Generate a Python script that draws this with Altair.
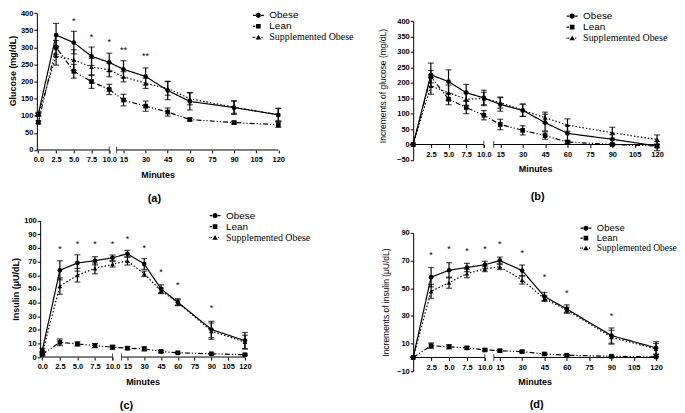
import altair as alt
import pandas as pd

minutes = [0, 2.5, 5, 7.5, 10, 15, 30, 45, 60, 90, 120]
groups = ["Obese", "Lean", "Supplemented Obese"]
x_ticks_full = [0, 2.5, 5, 7.5, 10, 15, 30, 45, 60, 75, 90, 105, 120]
x_ticks_nozero = [2.5, 5, 7.5, 10, 15, 30, 45, 60, 75, 90, 105, 120]

# (a) Glucose (mg/dL)
glu_obese = [105, 336, 314, 274, 256, 236, 215, 174, 142, 124, 103]
glu_obese_sem = [5, 34, 33, 27, 27, 25, 25, 27, 25, 20, 19]
glu_lean = [81, 300, 230, 200, 177, 146, 128, 111, 89, 80, 74]
glu_lean_sem = [4, 20, 20, 20, 15, 17, 15, 12, 4, 4, 8]
glu_supp = [103, 275, 263, 243, 234, 214, 195, 180, 150, 125, 103]
glu_supp_sem = [4, 27, 30, 25, 20, 15, 15, 20, 18, 18, 18]
glu_star_min = [5, 7.5, 10, 15, 30]
glu_star_y = [378, 331, 316, 292, 274]
glu_star_txt = ["*", "*", "*", "**", "**"]

# (b) Increments of glucose (mg/dL)
dglu_obese = [0, 226, 204, 168, 151, 130, 111, 71, 36, 17, -5]
dglu_obese_sem = [0, 38, 38, 27, 25, 22, 20, 27, 25, 15, 15]
dglu_lean = [0, 220, 147, 120, 95, 65, 46, 29, 8, 0, -5]
dglu_lean_sem = [0, 20, 18, 20, 15, 17, 15, 12, 5, 3, 5]
dglu_supp = [0, 190, 168, 147, 149, 136, 111, 87, 63, 38, 16]
dglu_supp_sem = [0, 27, 25, 20, 20, 18, 20, 18, 20, 18, 15]
dglu_star_min = []
dglu_star_y = []
dglu_star_txt = []

# (c) Insulin (uU/dL)
ins_obese = [5, 63.6, 69, 70.6, 72.8, 75.7, 68.2, 50, 40.2, 20.2, 12]
ins_obese_sem = [1.5, 7, 6, 3, 2, 2.5, 4, 3, 2.5, 6, 6]
ins_lean = [2, 10.8, 9.6, 8.4, 7.2, 6.5, 6, 4.1, 3.1, 2.4, 1.7]
ins_lean_sem = [1, 2.5, 1.5, 1.5, 1.5, 1, 1.5, 0.8, 0.5, 0.5, 0.5]
ins_supp = [3, 52, 60, 65, 68, 70.5, 61, 48.5, 40, 19, 11]
ins_supp_sem = [1, 6, 5, 4, 2, 3, 2, 2, 2, 6, 5]
ins_star_min = [2.5, 5, 7.5, 10, 15, 30, 45, 60, 90]
ins_star_y = [79, 83, 83, 83, 86.5, 80, 62.6, 52.5, 35.7]
ins_star_txt = ["*"] * 9

# (d) Increments of insulin (uU/dL)
dins_obese = [0, 58, 63, 65, 67, 70, 62.8, 44, 35, 15.8, 6.9]
dins_obese_sem = [0, 7, 5.5, 3, 2.5, 2.5, 4, 3, 3, 5.5, 4.5]
dins_lean = [0, 8.5, 7.7, 6.9, 5.4, 4.9, 4.2, 2.5, 1.6, 0.8, 0.4]
dins_lean_sem = [0, 2, 1.5, 1, 0.8, 0.8, 0.8, 0.6, 0.5, 0.3, 0.3]
dins_supp = [0, 47.8, 54, 60.6, 64, 65.5, 56, 42.5, 34.3, 14.6, 6.1]
dins_supp_sem = [0, 5, 4, 3, 2, 2, 3, 2, 2, 5, 4]
dins_star_min = [2.5, 5, 7.5, 10, 15, 30, 45, 60, 90]
dins_star_y = [74, 78, 77, 78.7, 82, 75.5, 58, 46.6, 29.8]
dins_star_txt = ["*"] * 9

dashes = [[1, 0], [5, 2, 1.2, 2, 1.2, 2], [1.5, 2]]
shapes = ["circle", "square", "triangle-up"]
# legend glyphs: line sample + marker, in the unit box [-1, 1]
legend_glyphs = [
    "M-1,-0.11H-0.4V0.11H-1Z M0.4,-0.11H1V0.11H0.4Z "
    "M-0.47,0A0.47,0.47 0 1,0 0.47,0A0.47,0.47 0 1,0 -0.47,0Z",
    "M-1,-0.11H-0.55V0.11H-1Z M-0.42,-0.42H0.42V0.42H-0.42Z",
    "M-1.05,-0.11H-0.85V0.11H-1.05Z M-0.75,-0.11H-0.55V0.11H-0.75Z "
    "M0.55,-0.11H0.75V0.11H0.55Z M0,-0.48L0.5,0.4H-0.5Z",
]
SANS = "Liberation Sans"
SERIF = "Liberation Serif"
XLABEL_EXPR = "datum.value <= 10 ? format(datum.value, '.1f') : format(datum.value, 'd')"
SERIF_LABELS = "datum.value == 'Supplemented Obese' ? datum.value : ' '"
SANS_LABELS = "datum.value == 'Supplemented Obese' ? ' ' : datum.value"


def long_df(series):
    rows = []
    for g, vals, sems in series:
        for t, v, s in zip(minutes, vals, sems):
            rows.append({"min": t, "val": v, "lo": v - s, "hi": v + s,
                         "group": g, "grp": g, "grp2": g})
    return pd.DataFrame(rows)


def panel(series, star_min, star_y, star_txt, ytitle, ydomain, yrange, yticks,
          xdomain, xrange, xticks, seg2, xoff, yoff, ytpad, ytitle_y, ytw, yts, W, H,
          lx, ly, rowpad, lfont, title, title_dx, title_offset):
    df = long_df(series)
    segs = pd.DataFrame({"a": [xdomain[0], seg2], "b": [10, 120]})
    brk = pd.DataFrame({"m": [10, seg2]})
    stars = pd.DataFrame({"min": star_min, "val": star_y, "s": star_txt})

    xs = alt.Scale(domain=xdomain, range=xrange, nice=False, zero=False)
    ys = alt.Scale(domain=ydomain, range=yrange, nice=False, zero=False)
    xax = alt.Axis(values=xticks, labelExpr=XLABEL_EXPR, domain=False, grid=False,
                   ticks=True, tickSize=3, tickColor="black", tickWidth=1,
                   labelFont=SANS, labelFontSize=7.5, labelFontWeight="bold", labelColor="black",
                   labelPadding=3, labelFlush=False, labelOverlap=False,
                   title="Minutes", titleFont=SANS, titleFontSize=9, titleFontWeight="bold",
                   titleColor="black", titlePadding=7, offset=xoff)
    yargs = dict(values=yticks, format="d", domain=True, domainColor="black", domainWidth=1,
                 grid=False, ticks=True, tickSize=3, tickColor="black", tickWidth=1,
                 labelFont=SANS, labelFontSize=7.5, labelFontWeight="bold", labelColor="black",
                 labelPadding=1, labelFlush=False, labelOverlap=False,
                 title=ytitle, titleFont=SANS, titleFontSize=yts, titleFontWeight=ytw,
                 titleColor="black", titlePadding=ytpad, offset=yoff)
    if ytitle_y is not None:
        yargs["titleY"] = ytitle_y
    yax = alt.Axis(**yargs)

    def X(f):
        return alt.X(f, type="quantitative", scale=xs, axis=xax)

    def Y(f):
        return alt.Y(f, type="quantitative", scale=ys, axis=yax)

    y0 = alt.YDatum(datum=0, scale=ys, axis=yax)

    axis_line = alt.Chart(segs).mark_rule(color="black", strokeWidth=1).encode(
        x=X("a"), x2="b", y=y0)
    breaks = alt.Chart(brk).mark_tick(orient="vertical", size=7, thickness=1, color="black").encode(
        x=X("m"), y=y0)
    line = alt.Chart(df).mark_line(color="black", strokeWidth=1.2).encode(
        x=X("min"), y=Y("val"),
        strokeDash=alt.StrokeDash("group:N", scale=alt.Scale(domain=groups, range=dashes),
                                  legend=None))
    err = alt.Chart(df).mark_errorbar(ticks={"size": 6, "thickness": 1.2}, color="black",
                                      thickness=1.2).encode(
        x=X("min"), y=Y("lo"), y2="hi", detail="group:N")
    pts = alt.Chart(df).mark_point(filled=True, color="black", size=22, opacity=1).encode(
        x=X("min"), y=Y("val"),
        shape=alt.Shape("group:N", scale=alt.Scale(domain=groups, range=shapes), legend=None))
    leg_common = dict(orient="none", legendX=lx, legendY=ly, title=None, symbolSize=121,
                      symbolFillColor="black", symbolStrokeColor="black", symbolStrokeWidth=0,
                      labelFontSize=lfont, labelColor="black", labelOffset=5.5,
                      rowPadding=rowpad)
    leg = alt.Chart(df).mark_point(filled=True, color="black", opacity=0, size=121).encode(
        x=X("min"), y=Y("val"),
        shape=alt.Shape("grp:N", sort=groups, scale=alt.Scale(range=legend_glyphs),
                        legend=alt.Legend(symbolOpacity=1, labelFont=SERIF,
                                          labelExpr=SERIF_LABELS, **leg_common)))
    leg2 = alt.Chart(df).mark_point(filled=True, color="black", opacity=0, size=121).encode(
        x=X("min"), y=Y("val"),
        shape=alt.Shape("grp2:N", sort=groups, scale=alt.Scale(range=legend_glyphs),
                        legend=alt.Legend(symbolOpacity=0, labelFont=SANS,
                                          labelExpr=SANS_LABELS, **leg_common)))
    layers = [axis_line, breaks, line, err, pts, leg, leg2]
    if len(star_min):
        txt = alt.Chart(stars).mark_text(fontSize=9, font=SANS, color="black",
                                         baseline="middle").encode(
            x=X("min"), y=Y("val"), text="s:N")
        layers.append(txt)
    return alt.layer(*layers).resolve_scale(shape="independent").properties(
        width=W, height=H,
        title=alt.TitleParams(text=title, orient="bottom", frame="group", anchor="middle",
                              dx=title_dx, offset=title_offset, fontSize=11, font=SANS,
                              fontWeight="bold", color="black"))


H1 = 189.5
H2 = 200

pa = panel([("Obese", glu_obese, glu_obese_sem), ("Lean", glu_lean, glu_lean_sem),
            ("Supplemented Obese", glu_supp, glu_supp_sem)],
           glu_star_min, glu_star_y, glu_star_txt, "Glucose (mg/dL)",
           [0, 400], [140.7, 3.3], list(range(0, 401, 50)),
           [-0.21, 10, 15, 120], [0, 72.7, 87, 242.5], x_ticks_full, 12.55,
           140.7 - H1, 0, 3, 61, "bold", 9, 377.3, H1, 217, 0, -1.2, 10, "(a)", -70.6, -6)

pb = panel([("Obese", dglu_obese, dglu_obese_sem), ("Lean", dglu_lean, dglu_lean_sem),
            ("Supplemented Obese", dglu_supp, dglu_supp_sem)],
           dglu_star_min, dglu_star_y, dglu_star_txt, "Increments of glucose (mg/dL)",
           [-50, 400], [150.7, 11.3], list(range(-50, 401, 50)),
           [0, 10, 15, 120], [0, 71, 87.5, 245], x_ticks_nozero, 13.0,
           135.2 - H1, 0, 9, 76, "normal", 8.5, 250, H1, 154.2, 0.8, -0.3, 10, "(b)", 0, -8)

pc = panel([("Obese", ins_obese, ins_obese_sem), ("Lean", ins_lean, ins_lean_sem),
            ("Supplemented Obese", ins_supp, ins_supp_sem)],
           ins_star_min, ins_star_y, ins_star_txt, "Insulin (μU/dL)",
           [0, 100], [158.7, 21.7], list(range(0, 101, 10)),
           [-0.31, 10, 15, 120], [3.3, 76, 91, 209], x_ticks_full, 13.0,
           158.7 - H2, -3.3, 3, None, "bold", 9, 377.3, H2, 173.5, 11.2, -0.3, 10, "(c)", -98.6, 1.5)

pd_ = panel([("Obese", dins_obese, dins_obese_sem), ("Lean", dins_lean, dins_lean_sem),
             ("Supplemented Obese", dins_supp, dins_supp_sem)],
            dins_star_min, dins_star_y, dins_star_txt, "Increments of insulin (μU/dL)",
            [-10, 90], [173, 34], [-10, 10, 30, 50, 70, 90],
            [0, 10, 15, 120], [0, 72, 87, 244], x_ticks_nozero, 13.0,
            159.1 - H2, 0, 6, None, "normal", 8.5, 250, H2, 168, 23.8, -0.7, 9.5, "(d)", -1, 0.5)

chart = alt.concat(pa, pb, pc, pd_, columns=2, spacing=0, bounds="flush", align="each").properties(
    padding=0
).resolve_scale(
    shape="independent", strokeDash="independent"
).resolve_legend(
    shape="independent", strokeDash="independent"
).configure(font=SANS).configure_view(stroke="transparent", strokeWidth=0)

chart.save("out.html", embed_options={"renderer": "svg", "actions": False})
